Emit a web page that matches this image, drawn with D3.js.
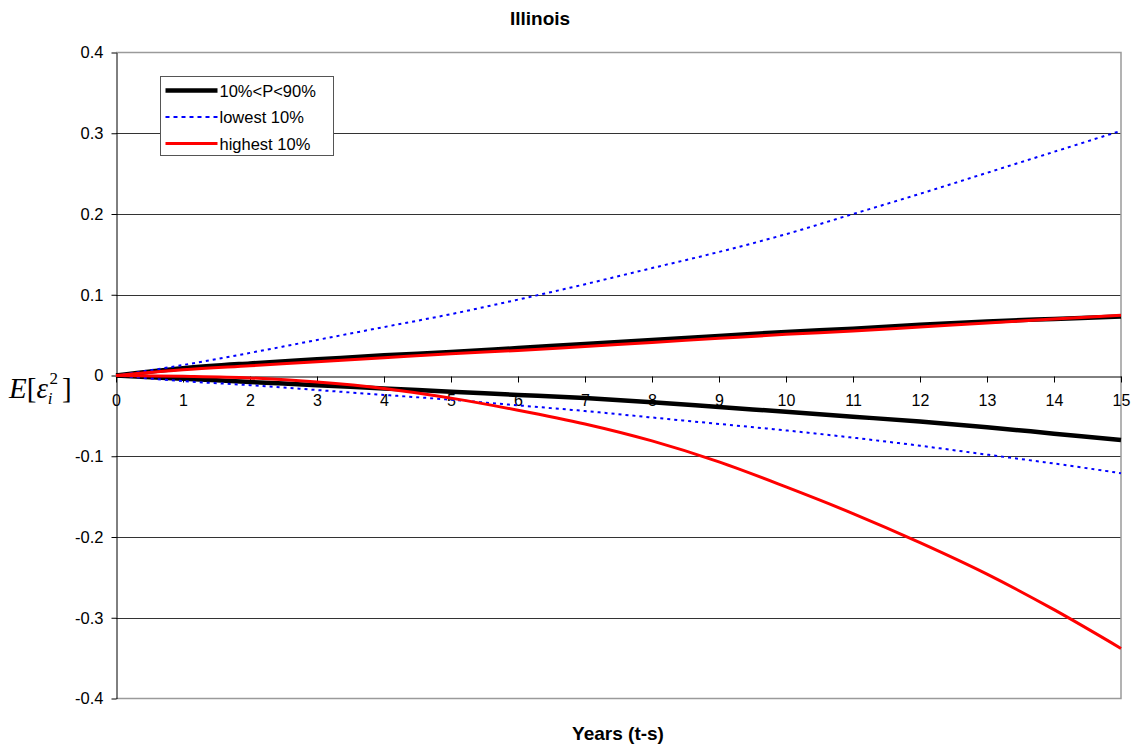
<!DOCTYPE html>
<html lang="en">
  <head>
    <meta charset="utf-8"/>
    <title>Illinois</title>
    <script src="https://cdn.jsdelivr.net/npm/d3@7"></script>
    <style>
      body { margin: 0; background: #fff; }
      text { font-family: "Liberation Sans", Arial, sans-serif; }
    </style>
  </head>
  <body>
    <div id="chart"></div>
    <script>
      // years since start (t-s)
      var years = [0, 1, 2, 3, 4, 5, 6, 7, 8, 9, 10, 11, 12, 13, 14, 15];

      // 10%<P<90% band (black)
      var midUpper = [0, 0.009, 0.015, 0.020, 0.025, 0.029, 0.034, 0.039, 0.044, 0.049, 0.054, 0.058, 0.063, 0.067, 0.070, 0.073];
      var midLower = [0, -0.004, -0.008, -0.012, -0.016, -0.020, -0.024, -0.028, -0.033, -0.039, -0.045, -0.051, -0.057, -0.064, -0.072, -0.080];

      // lowest 10% band (blue, dotted)
      var lowUpper = [0, 0.013, 0.028, 0.044, 0.060, 0.076, 0.094, 0.113, 0.133, 0.153, 0.175, 0.200, 0.225, 0.251, 0.277, 0.303];
      var lowLower = [0, -0.007, -0.012, -0.018, -0.024, -0.030, -0.037, -0.044, -0.052, -0.060, -0.068, -0.077, -0.087, -0.098, -0.109, -0.121];

      // highest 10% band (red)
      var highUpper = [0, 0.007, 0.012, 0.017, 0.022, 0.027, 0.031, 0.036, 0.041, 0.046, 0.051, 0.055, 0.060, 0.065, 0.070, 0.0745];
      var highLower = [0, -0.001, -0.003, -0.008, -0.016, -0.028, -0.043, -0.060, -0.081, -0.107, -0.138, -0.171, -0.207, -0.246, -0.290, -0.338];

      var yTicks = [0.4, 0.3, 0.2, 0.1, 0, -0.1, -0.2, -0.3, -0.4];
      var legendLabels = ["10%<P<90%", "lowest 10%", "highest 10%"];

      var width = 1136, height = 747;
      var plotLeft = 116, plotRight = 1121, plotTop = 52.5, plotBottom = 698.5;

      var svg = d3.select("#chart").append("svg")
        .attr("width", width)
        .attr("height", height);

      var x = d3.scaleLinear().domain([0, 15]).range([plotLeft, plotRight]);
      var y = d3.scaleLinear().domain([-0.4, 0.4]).range([plotBottom, plotTop]);

      // gridlines
      svg.append("g")
        .selectAll("line")
        .data(yTicks.filter(function(d) { return d !== 0 && d !== 0.4 && d !== -0.4; }))
        .enter().append("line")
        .attr("x1", plotLeft).attr("x2", plotRight)
        .attr("y1", function(d) { return Math.round(y(d)) + 0.5; })
        .attr("y2", function(d) { return Math.round(y(d)) + 0.5; })
        .attr("stroke", "#333")
        .attr("stroke-width", 1);

      // plot border (top, right, bottom)
      svg.append("path")
        .attr("d", "M" + plotLeft + "," + plotTop + "H" + plotRight + "V" + plotBottom + "H" + plotLeft)
        .attr("fill", "none")
        .attr("stroke", "#9a9a9a")
        .attr("stroke-width", 1.5);

      // y axis on the left, plain hyphen for negatives
      var yAxis = d3.axisLeft(y)
        .tickValues(yTicks)
        .tickSize(5)
        .tickSizeOuter(0)
        .tickPadding(8)
        .tickFormat(function(d) { return d === 0 ? "0" : d.toFixed(1); });
      var gy = svg.append("g")
        .attr("transform", "translate(" + (plotLeft + 0.5) + ",0)")
        .call(yAxis);
      gy.select(".domain").attr("stroke", "#000");
      gy.selectAll(".tick line").attr("stroke", "#000");
      gy.selectAll("text")
        .attr("font-size", 16.5)
        .attr("fill", "#000")
        .style("font-family", "'Liberation Sans', Arial, sans-serif");

      // x axis sitting on zero
      var xAxis = d3.axisBottom(x)
        .tickValues(years)
        .tickSize(6)
        .tickSizeOuter(0)
        .tickPadding(12)
        .tickFormat(function(d) { return String(d); });
      var gx = svg.append("g")
        .attr("transform", "translate(0," + (Math.round(y(0)) + 0.5) + ")")
        .call(xAxis);
      gx.select(".domain").attr("stroke", "#000");
      gx.selectAll(".tick line").attr("stroke", "#000");
      gx.selectAll("text")
        .attr("font-size", 16)
        .attr("fill", "#000")
        .style("font-family", "'Liberation Sans', Arial, sans-serif");

      var line = d3.line()
        .x(function(d, i) { return x(years[i]); })
        .y(function(d) { return y(d); })
        .curve(d3.curveCatmullRom.alpha(0.5));

      var series = [
        { values: midUpper, color: "#000", width: 4.5, dash: null },
        { values: midLower, color: "#000", width: 4.5, dash: null },
        { values: lowUpper, color: "#0000ff", width: 2, dash: "3,4" },
        { values: lowLower, color: "#0000ff", width: 2, dash: "3,4" },
        { values: highUpper, color: "#ff0000", width: 3, dash: null },
        { values: highLower, color: "#ff0000", width: 3, dash: null }
      ];

      svg.append("g")
        .selectAll("path")
        .data(series)
        .enter().append("path")
        .attr("d", function(d) { return line(d.values); })
        .attr("fill", "none")
        .attr("stroke", function(d) { return d.color; })
        .attr("stroke-width", function(d) { return d.width; })
        .attr("stroke-dasharray", function(d) { return d.dash; });

      // legend
      var legend = svg.append("g").attr("transform", "translate(160.5,76.5)");
      legend.append("rect")
        .attr("width", 173)
        .attr("height", 79)
        .attr("fill", "#fff")
        .attr("stroke", "#555")
        .attr("stroke-width", 1);
      var legendStyles = [series[0], series[2], series[4]];
      legendLabels.forEach(function(label, i) {
        var ly = 14 + i * 26.5;
        legend.append("line")
          .attr("x1", 5).attr("x2", 57)
          .attr("y1", ly).attr("y2", ly)
          .attr("stroke", legendStyles[i].color)
          .attr("stroke-width", legendStyles[i].width)
          .attr("stroke-dasharray", i === 1 ? "4,4" : null);
        legend.append("text")
          .attr("x", 59)
          .attr("y", ly + 6)
          .attr("font-size", 16.5)
          .text(label);
      });

      // title
      svg.append("text")
        .attr("x", 540)
        .attr("y", 25)
        .attr("text-anchor", "middle")
        .attr("font-size", 19)
        .attr("font-weight", "bold")
        .text("Illinois");

      // x axis title
      svg.append("text")
        .attr("x", 618)
        .attr("y", 740)
        .attr("text-anchor", "middle")
        .attr("font-size", 19)
        .attr("font-weight", "bold")
        .text("Years (t-s)");

      // y axis title E[eps_i^2]
      var yl = svg.append("text")
        .attr("x", 9)
        .attr("y", 398)
        .style("font-family", "'Liberation Serif', 'Times New Roman', serif")
        .attr("font-size", 29);
      yl.append("tspan").attr("font-style", "italic").text("E");
      yl.append("tspan").text("[");
      yl.append("tspan").attr("font-style", "italic").text("\u03b5");
      yl.append("tspan").attr("font-style", "italic").attr("font-size", 17).attr("dy", 6).text("i");
      yl.append("tspan").attr("font-size", 17).attr("dx", -3).attr("dy", -20).text("2");
      yl.append("tspan").attr("dy", 14).attr("dx", 4).text("]");
    </script>
  </body>
</html>
